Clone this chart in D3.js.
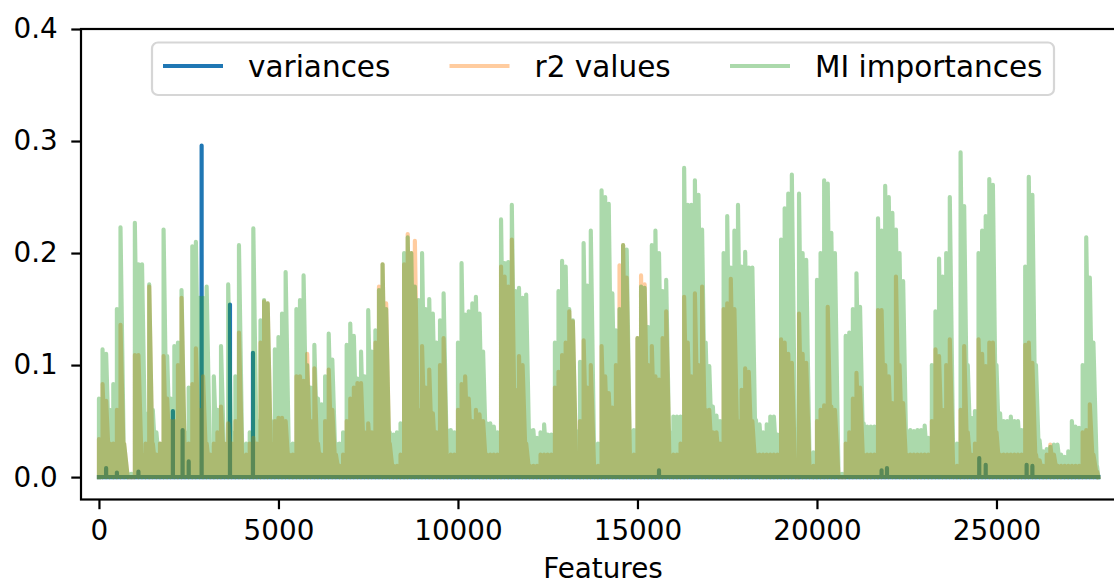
<!DOCTYPE html>
<html><head><meta charset="utf-8">
<script src="https://cdn.jsdelivr.net/npm/d3@7/dist/d3.min.js"></script>
<style>
body{margin:0;background:#fff}
svg{display:block}
text{font-family:"DejaVu Sans",sans-serif;fill:#000}
</style>
</head><body>
<svg id="chart" width="1114" height="585"></svg>
<script>
// ---------------- data ----------------
const binStep = 100;          // feature spacing of the sampled envelope values
const nFeatures = 27840;      // number of features

const miImportances = [
0.07,0.114,0.11,0.06,0.083,0.15,0.223,0.03,0.003,0.003,
0.227,0.19,0.19,0.057,0.172,0.06,0.04,0.03,0.221,0.108,
0.07,0.117,0.12,0.167,0.04,0.08,0.206,0.21,0.16,0.16,
0.17,0.02,0.09,0.06,0.117,0.03,0.172,0.04,0.09,0.207,
0.03,0.03,0.04,0.222,0.05,0.14,0.158,0.155,0.05,0.114,
0.125,0.146,0.183,0.03,0.03,0.15,0.158,0.18,0.1,0.08,
0.118,0.07,0.065,0.09,0.128,0.105,0.03,0.03,0.04,0.118,
0.137,0.126,0.088,0.112,0.09,0.149,0.112,0.131,0.167,0.19,
0.15,0.04,0.038,0.04,0.048,0.2,0.214,0.2,0.17,0.158,
0.2,0.15,0.159,0.146,0.12,0.14,0.164,0.042,0.042,0.04,
0.12,0.191,0.145,0.148,0.155,0.161,0.146,0.112,0.048,0.048,
0.045,0.04,0.23,0.191,0.192,0.243,0.166,0.169,0.16,0.163,
0.042,0.042,0.035,0.04,0.047,0.038,0.038,0.12,0.166,0.193,
0.188,0.15,0.14,0.041,0.103,0.209,0.171,0.22,0.023,0.03,
0.256,0.25,0.244,0.164,0.131,0.15,0.207,0.203,0.041,0.042,
0.124,0.17,0.169,0.134,0.207,0.22,0.2,0.166,0.176,0.04,
0.054,0.054,0.054,0.276,0.243,0.243,0.265,0.252,0.221,0.12,
0.099,0.063,0.055,0.05,0.2,0.233,0.187,0.22,0.243,0.188,
0.201,0.187,0.187,0.051,0.047,0.04,0.047,0.054,0.054,0.038,
0.212,0.24,0.253,0.27,0.003,0.253,0.2,0.194,0.022,0.022,
0.176,0.2,0.265,0.262,0.218,0.2,0.003,0.003,0.126,0.129,
0.15,0.182,0.152,0.048,0.045,0.045,0.045,0.231,0.22,0.26,
0.25,0.236,0.221,0.2,0.175,0.041,0.042,0.041,0.042,0.042,
0.046,0.035,0.1,0.148,0.195,0.179,0.2,0.25,0.025,0.03,
0.29,0.242,0.1,0.053,0.059,0.2,0.22,0.233,0.266,0.261,
0.1,0.057,0.05,0.05,0.054,0.05,0.05,0.042,0.188,0.268,
0.252,0.1,0.033,0.023,0.025,0.027,0.029,0.029,0.02,0.018,
0.023,0.05,0.045,0.044,0.1,0.214,0.178,0.12,0.01
];

const r2Values = [
0.034,0.083,0.068,0.03,0.03,0.06,0.136,0.03,0.0,0.0,
0.109,0.109,0.02,0.03,0.17,0.03,0.02,0.03,0.108,0.07,
0.05,0.05,0.10,0.16,0.03,0.03,0.083,0.115,0.06,0.09,
0.03,0.02,0.03,0.04,0.063,0.03,0.048,0.03,0.05,0.129,
0.02,0.02,0.03,0.035,0.03,0.12,0.157,0.155,0.03,0.05,
0.053,0.053,0.05,0.02,0.02,0.09,0.09,0.086,0.11,0.05,
0.097,0.03,0.02,0.05,0.096,0.06,0.02,0.01,0.02,0.05,
0.07,0.08,0.084,0.084,0.04,0.048,0.04,0.12,0.17,0.19,
0.155,0.03,0.01,0.01,0.02,0.19,0.217,0.2,0.211,0.06,
0.117,0.08,0.096,0.057,0.04,0.1,0.124,0.02,0.02,0.02,
0.06,0.083,0.09,0.07,0.05,0.06,0.056,0.05,0.02,0.02,
0.02,0.02,0.188,0.179,0.17,0.212,0.078,0.108,0.1,0.03,
0.01,0.01,0.01,0.02,0.02,0.02,0.02,0.08,0.094,0.109,
0.12,0.148,0.139,0.02,0.05,0.122,0.08,0.1,0.01,0.01,
0.117,0.09,0.075,0.062,0.1,0.189,0.207,0.178,0.02,0.02,
0.124,0.18,0.172,0.1,0.117,0.09,0.087,0.124,0.148,0.02,
0.02,0.02,0.03,0.161,0.12,0.09,0.164,0.1,0.17,0.06,
0.06,0.04,0.04,0.03,0.15,0.155,0.177,0.15,0.05,0.078,
0.097,0.094,0.05,0.02,0.02,0.02,0.02,0.02,0.02,0.02,
0.123,0.12,0.11,0.102,0.0,0.146,0.11,0.102,0.01,0.01,
0.05,0.06,0.064,0.152,0.063,0.06,0.0,0.0,0.03,0.04,
0.07,0.093,0.08,0.02,0.02,0.02,0.02,0.149,0.149,0.1,
0.09,0.066,0.179,0.1,0.066,0.02,0.02,0.02,0.02,0.02,
0.02,0.02,0.05,0.114,0.108,0.06,0.1,0.123,0.01,0.01,
0.06,0.117,0.04,0.02,0.03,0.123,0.11,0.099,0.12,0.12,
0.04,0.02,0.02,0.02,0.02,0.02,0.02,0.02,0.118,0.12,
0.102,0.02,0.015,0.01,0.02,0.029,0.02,0.01,0.01,0.01,
0.01,0.01,0.01,0.01,0.04,0.042,0.065,0.02,0.005
];

// variances are ~0 everywhere except a few isolated features
const varianceFeatures = [200, 500, 1100, 2060, 2330, 2500, 2860, 3650, 4290, 15600, 21800, 21950, 24520, 24700, 25840, 26000];
const varianceValues   = [0.008, 0.004, 0.005, 0.059, 0.042, 0.014, 0.296, 0.154, 0.111, 0.006, 0.006, 0.008, 0.017, 0.011, 0.011, 0.01];

const xTicks = [0, 5000, 10000, 15000, 20000, 25000];
const yTicks = [0.0, 0.1, 0.2, 0.3, 0.4];
const seriesNames = ["variances", "r2 values", "MI importances"];
const seriesColors = ["#1f77b4", "#ff7f0e", "#2ca02c"];
const seriesAlpha = [1, 0.4, 0.4];
const xLabel = "Features";

// ---------------- layout ----------------
const svg = d3.select("#chart");
const axLeft = 81, axRight = 1125, axTop = 29, axBottom = 499.5;
const x = d3.scaleLinear().domain([-500, 28580]).range([axLeft, axRight]);
const y = d3.scaleLinear().domain([-0.02, 0.4]).range([axBottom, axTop]);
const lw = 4.17;

svg.append("defs").append("clipPath").attr("id", "clip")
  .append("rect").attr("x", axLeft).attr("y", axTop).attr("width", axRight - axLeft).attr("height", axBottom - axTop);

const line = d3.line().x(d => x(d[0])).y(d => y(d[1]));

// series paths
const bluePts = [[0, 0]];
varianceFeatures.forEach((f, i) => { bluePts.push([f - 1, 0], [f, varianceValues[i]], [f + 1, 0]); });
bluePts.push([nFeatures - 1, 0]);

function envelope(vals) {
  const pts = [];
  vals.forEach((v, i) => { pts.push([i * binStep, 0], [i * binStep, v]); });
  pts.push([nFeatures - 1, 0]);
  return pts;
}

const plotG = svg.append("g").attr("clip-path", "url(#clip)");
[bluePts, envelope(r2Values), envelope(miImportances)].forEach((pts, k) => {
  plotG.append("path")
    .attr("d", line(pts))
    .attr("fill", "none")
    .attr("stroke", seriesColors[k])
    .attr("stroke-opacity", seriesAlpha[k])
    .attr("stroke-width", lw)
    .attr("stroke-linejoin", "round")
    .attr("stroke-linecap", "square");
});

// axes
const fs = 27.8;
const xAxis = d3.axisBottom(x).tickValues(xTicks).tickFormat(d3.format("d")).tickSize(9.7).tickPadding(11.5);
const yAxis = d3.axisLeft(y).tickValues(yTicks).tickFormat(d3.format(".1f")).tickSize(9.7).tickPadding(13.5);

const gx = svg.append("g").attr("transform", `translate(0,${axBottom})`).call(xAxis);
const gy = svg.append("g").attr("transform", `translate(${axLeft},0)`).call(yAxis);
[gx, gy].forEach(g => {
  g.select(".domain").remove();
  g.selectAll(".tick line").attr("stroke", "#000").attr("stroke-width", 2.2);
  g.selectAll(".tick text").attr("font-size", fs).attr("font-family", "DejaVu Sans").attr("fill", "#000");
});

// spines
svg.append("rect").attr("x", axLeft).attr("y", axTop).attr("width", axRight - axLeft).attr("height", axBottom - axTop)
  .attr("fill", "none").attr("stroke", "#000").attr("stroke-width", 2.2);

// x label
svg.append("text").attr("x", (axLeft + axRight) / 2).attr("y", 578).attr("text-anchor", "middle")
  .attr("font-size", fs).text(xLabel);

// legend
const lg = svg.append("g");
lg.append("rect").attr("x", 152).attr("y", 42.5).attr("width", 902).attr("height", 52.5)
  .attr("rx", 6).attr("fill", "#fff").attr("fill-opacity", 0.8)
  .attr("stroke", "#d6d6d6").attr("stroke-width", 2.2);
const handleX = [163, 449.5, 730];
const legendY = 66;
seriesNames.forEach((name, k) => {
  lg.append("line").attr("x1", handleX[k]).attr("x2", handleX[k] + 60)
    .attr("y1", legendY).attr("y2", legendY)
    .attr("stroke", seriesColors[k]).attr("stroke-opacity", seriesAlpha[k]).attr("stroke-width", lw);
  lg.append("text").attr("x", handleX[k] + 85).attr("y", legendY + 10.5)
    .attr("font-size", 29.5).text(name);
});
</script>
</body></html>
